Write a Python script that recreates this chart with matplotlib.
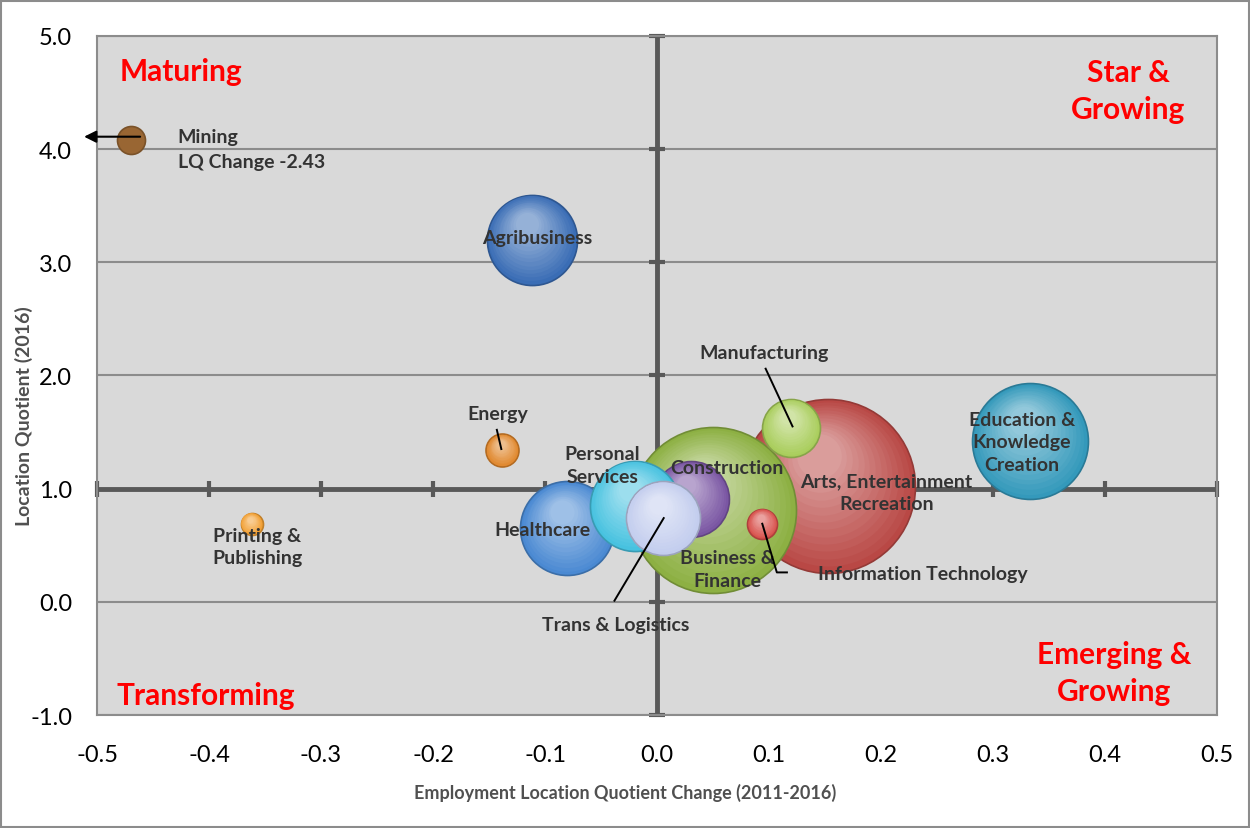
import numpy as np
import matplotlib
matplotlib.use('Agg')
import matplotlib.pyplot as plt
from matplotlib.colors import to_rgb
from matplotlib.transforms import offset_copy

plt.rcParams['font.family'] = ['Lato', 'DejaVu Sans']

# ------------------------------------------------------------
# data
# ------------------------------------------------------------
industries = ["Arts, Entertainment\nRecreation", "Business &\nFinance", "Manufacturing",
              "Healthcare", "Construction", "Personal\nServices", "Trans & Logistics",
              "Information Technology", "Agribusiness", "Education &\nKnowledge\nCreation",
              "Energy", "Printing &\nPublishing", "Mining"]
lq_change = [0.153, 0.050, 0.120, -0.080, 0.030, -0.020, 0.005,
             0.094, -0.112, 0.333, -0.138, -0.362, -0.470]
lq_2016 = [1.02, 0.81, 1.54, 0.65, 0.91, 0.85, 0.74,
           0.69, 3.20, 1.42, 1.34, 0.69, 4.08]
bubble_size = [7570, 6890, 840, 2210, 1440, 2030, 1370,
               225, 2030, 3360, 272, 121, 196]
colors = ["#b94845", "#8db043", "#a9cd5b", "#4a89d2", "#7a56a3", "#47c2e0", "#c3cdee",
          "#d8504b", "#3a6db5", "#3499bb", "#e0862a", "#f2a033", "#996633"]
shaded = [True] * 12 + [False]

xticks = [-0.5, -0.4, -0.3, -0.2, -0.1, 0.0, 0.1, 0.2, 0.3, 0.4, 0.5]
yticks = [-1.0, 0.0, 1.0, 2.0, 3.0, 4.0, 5.0]

# label positions (data coords)
label_xy = {
    "Arts, Entertainment\nRecreation": (0.205, 0.97),
    "Business &\nFinance": (0.063, 0.29),
    "Manufacturing": (0.096, 2.20),
    "Healthcare": (-0.102, 0.64),
    "Construction": (0.062, 1.19),
    "Personal\nServices": (-0.049, 1.21),
    "Trans & Logistics": (-0.037, -0.20),
    "Information Technology": (0.237, 0.25),
    "Agribusiness": (-0.107, 3.22),
    "Education &\nKnowledge\nCreation": (0.326, 1.415),
    "Energy": (-0.142, 1.66),
    "Printing &\nPublishing": (-0.357, 0.49),
}

DARK = "#595959"
GRID = "#8c8c8c"
TXT = "#333333"

fig = plt.figure(figsize=(12.5, 8.29), dpi=100)
fig.patch.set_facecolor('white')
fig.add_artist(plt.Rectangle((0.001, 0.001), 0.998, 0.997, transform=fig.transFigure,
                             fill=False, edgecolor="#8c8c8c", lw=1.5))
ax = fig.add_axes([0.0776, 0.1363, 0.896, 0.8191])
ax.set_facecolor("#d9d9d9")
ax.set_xlim(-0.5, 0.5)
ax.set_ylim(-1.0, 5.0)

for sp in ax.spines.values():
    sp.set_color(GRID)
    sp.set_linewidth(1.5)

ax.set_xticks(xticks)
ax.set_yticks(yticks)
ax.set_xticklabels([f"{v:.1f}" for v in xticks], fontsize=17)
ax.set_yticklabels([f"{v:.1f}" for v in yticks], fontsize=17)
ax.tick_params(axis='x', length=0, pad=21)
ax.tick_params(axis='y', length=0, pad=18)
ax.grid(axis='y', color=GRID, lw=1.5, zorder=0)
ax.set_axisbelow(True)

# main crossing axes at x=0 and y=1 with tick marks
ax.axhline(1.0, color=DARK, lw=3.5, zorder=1)
ax.axvline(0.0, color=DARK, lw=3.5, zorder=1)
ax.plot(xticks, [1.0] * len(xticks), ls='none', marker='|', ms=12, mew=3,
        color=DARK, zorder=1, clip_on=False)
ax.plot([0.0] * len(yticks), yticks, ls='none', marker='_', ms=12, mew=3,
        color=DARK, zorder=1, clip_on=False)

# bubbles
scale = (2 * 0.72) ** 2
white = np.array([1.0, 1.0, 1.0])
z = 2
for x, y, size, col, sh in zip(lq_change, lq_2016, bubble_size, colors, shaded):
    s = size * scale
    base = np.array(to_rgb(col))
    edge = base * 0.8
    ax.scatter([x], [y], s=s, color=base, edgecolors=[edge], linewidths=1.2, zorder=z)
    z += 1
    if sh:
        r_pt = np.sqrt(s) / 2
        n = 14
        for k in range(1, n):
            f = k / n
            c = base * (1 - f * 0.5) + white * f * 0.5
            tr = offset_copy(ax.transData, fig=fig, x=-r_pt * f * 0.12,
                             y=r_pt * f * 0.38, units='points')
            ax.scatter([x], [y], s=s * (1 - f * 0.8) ** 2, color=c, linewidths=0,
                       transform=tr, zorder=z)
            z += 1

# bubble labels
for name, (tx, ty) in label_xy.items():
    ax.text(tx, ty, name, ha='center', va='center', fontsize=14, fontweight='bold',
            color=TXT, zorder=200, linespacing=1.4)

ax.text(-0.428, 4.0, "Mining\nLQ Change -2.43", ha='left', va='center', fontsize=14,
        fontweight='bold', color=TXT, zorder=200, linespacing=1.55)
ax.annotate("", xy=(-0.514, 4.11), xytext=(-0.459, 4.11),
            arrowprops=dict(arrowstyle='-|>', color='black', lw=1.5, mutation_scale=18),
            zorder=210, annotation_clip=False)

# leader lines
leaders = [
    ([-0.143, -0.139], [1.52, 1.35]),
    ([0.097, 0.121], [2.06, 1.55]),
    ([-0.038, 0.006], [0.01, 0.74]),
    ([0.094, 0.107, 0.116], [0.69, 0.26, 0.26]),
]
for lx, ly in leaders:
    ax.plot(lx, ly, color='black', lw=1.4, zorder=205)

# quadrant names
qstyle = dict(color='red', fontsize=21.5, fontweight='bold', ha='center', va='center', zorder=220)
ax.text(-0.425, 4.69, "Maturing", **qstyle)
ax.text(0.421, 4.52, "Star &\nGrowing", linespacing=1.4, **qstyle)
ax.text(-0.403, -0.82, "Transforming", **qstyle)
ax.text(0.408, -0.625, "Emerging &\nGrowing", linespacing=1.4, **qstyle)

fig.text(625 / 1250, 1 - 793 / 829, "Employment Location Quotient Change (2011-2016)",
         fontsize=13, fontweight='bold', color="#505050", ha='center', va='center')
fig.text(24 / 1250, 1 - 416 / 829, "Location Quotient (2016)", rotation=90,
         fontsize=14, fontweight='bold', color="#505050", ha='center', va='center')

plt.savefig("out.png", dpi=100)
